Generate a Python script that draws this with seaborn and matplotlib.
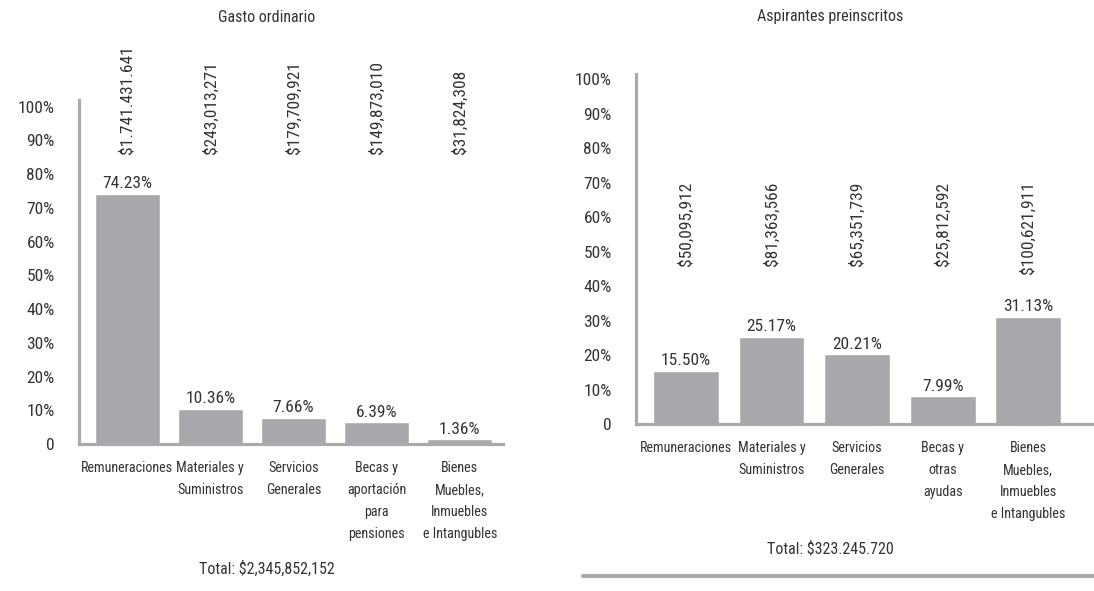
import matplotlib
matplotlib.use("Agg")
import matplotlib.pyplot as plt
import seaborn as sns
import pandas as pd
import logging
logging.getLogger("matplotlib.font_manager").setLevel(logging.ERROR)

# ---- data ----
left_title = "Gasto ordinario"
left_categories = ["Remuneraciones", "Materiales y\nSuministros", "Servicios\nGenerales",
                   "Becas y\naportación\npara\npensiones", "Bienes\nMuebles,\nInmuebles\ne Intangubles"]
left_pct = [74.23, 10.36, 7.66, 6.39, 1.36]
left_amounts = ["$1.741.431.641", "$243,013,271", "$179,709,921", "$149,873,010", "$31,824,308"]
left_total = "Total: $2,345,852,152"

right_title = "Aspirantes preinscritos"
right_categories = ["Remuneraciones", "Materiales y\nSuministros", "Servicios\nGenerales",
                    "Becas y\notras\nayudas", "Bienes\nMuebles,\nInmuebles\ne Intangubles"]
right_pct = [15.50, 25.17, 20.21, 7.99, 31.13]
right_amounts = ["$50,095,912", "$81,363,566", "$65,351,739", "$25,812,592", "$100,621,911"]
right_total = "Total: $323.245.720"

yticks = [0, 10, 20, 30, 40, 50, 60, 70, 80, 90, 100]
ytick_labels = ["0", "10%", "20%", "30%", "40%", "50%", "60%", "70%", "80%", "90%", "100%"]

# ---- style ----
sns.set_style("white")
plt.rcParams['font.family'] = ['Roboto Condensed', 'Liberation Sans Narrow', 'Liberation Sans', 'DejaVu Sans']
TXT = "#333333"
GRAY = "#a7a8ab"
AXC = "#a9aaad"
FSN = 12.5   # numbers
FSX = 10.2   # category labels
FST = 11.5   # titles / totals

W, H = 1094, 591
fig = plt.figure(figsize=(W / 100, H / 100), dpi=100)


def px_axes(x0, x1, y_top, y_bot):
    return fig.add_axes([x0 / W, 1 - y_bot / H, (x1 - x0) / W, (y_bot - y_top) / H])


def draw(ax, cats, pct, amounts, xlim, ytop, amt_y, amt_va, width):
    df = pd.DataFrame({"cat": cats, "pct": pct})
    sns.barplot(data=df, x="cat", y="pct", color=GRAY, saturation=1, width=width, ax=ax)
    ax.set_xlim(*xlim)
    ax.set_ylim(0, ytop)
    ax.set_yticks(yticks)
    ax.set_yticklabels(ytick_labels)
    ax.set_xlabel("")
    ax.set_ylabel("")
    for s in ["top", "right"]:
        ax.spines[s].set_visible(False)
    for s in ["left", "bottom"]:
        ax.spines[s].set_color(AXC)
        ax.spines[s].set_linewidth(2.3)
    ax.tick_params(axis="y", length=11.5, width=2.3, color=AXC, pad=6, labelsize=FSN, labelcolor=TXT)
    ax.tick_params(axis="x", length=0, pad=12, labelsize=FSX, labelcolor=TXT)
    for lab in ax.get_xticklabels():
        lab.set_linespacing(1.75)
        lab.set_va("top")
    for i, (p, a) in enumerate(zip(pct, amounts)):
        ax.text(i, p + 0.8, f"{p:.2f}%", ha="center", va="bottom", fontsize=FSN, color=TXT)
        ax.text(i, amt_y, a, ha="center", va=amt_va, rotation=90, fontsize=FSN, color=TXT, clip_on=False)


axL = px_axes(79, 503, 100, 444)
draw(axL, left_categories, left_pct, left_amounts, (-0.58, 4.52), 102, 86.0, "bottom", 0.78)
axR = px_axes(636, 1094, 74, 424)
draw(axR, right_categories, right_pct, right_amounts, (-0.585, 4.77), 101.5, 70.3, "top", 0.77)

fig.text(267 / W, 1 - 18 / H, left_title, ha="center", va="center", fontsize=FST, color=TXT)
fig.text(830 / W, 1 - 17 / H, right_title, ha="center", va="center", fontsize=FST, color=TXT)
fig.text(267 / W, 1 - 569 / H, left_total, ha="center", va="center", fontsize=FST, color=TXT)
fig.text(830 / W, 1 - 549 / H, right_total, ha="center", va="center", fontsize=FST, color=TXT)
fig.add_artist(plt.Line2D([583 / W, 1.0], [1 - 576 / H, 1 - 576 / H], color=AXC, linewidth=3,
                          transform=fig.transFigure))

fig.savefig("out.png", dpi=100)
